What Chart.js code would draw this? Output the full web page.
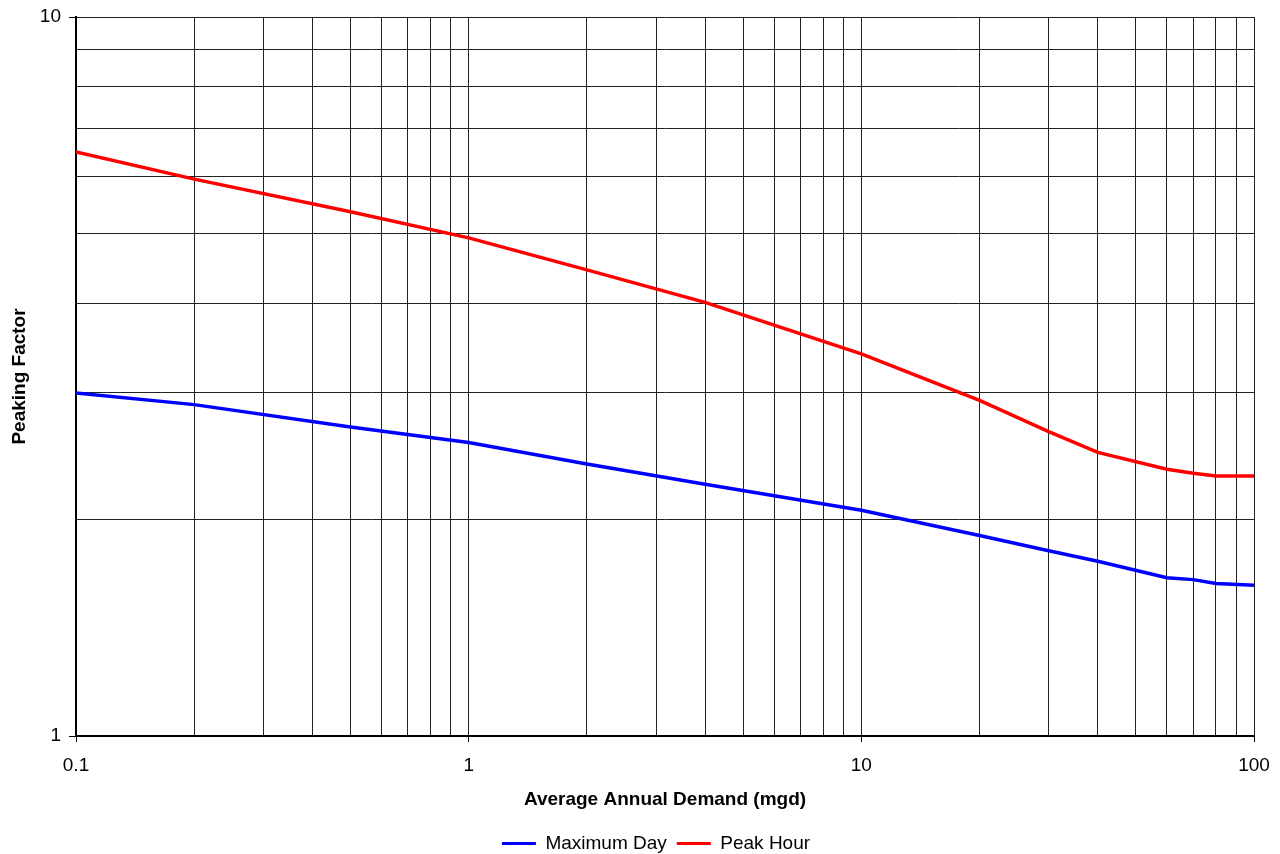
<!DOCTYPE html>
<html>
<head>
<meta charset="utf-8">
<script src="https://cdn.jsdelivr.net/npm/chart.js@4/dist/chart.umd.min.js"></script>
<style>
  html, body { margin: 0; padding: 0; background: #fff; }
  #wrap { width: 1280px; height: 854px; position: relative; }
</style>
</head>
<body>
<div id="wrap"><canvas id="chart"></canvas></div>
<script>
// demand (mgd) on a log axis
const demand = [0.1, 0.2, 0.5, 1, 2, 4, 10, 20, 30, 40, 60, 70, 80, 100];
const maxDay = [3.00, 2.89, 2.69, 2.56, 2.39, 2.24, 2.06, 1.90, 1.81, 1.75, 1.66, 1.65, 1.63, 1.62];
const peakHour = [6.49, 5.95, 5.36, 4.93, 4.45, 4.01, 3.40, 2.93, 2.65, 2.48, 2.35, 2.32, 2.30, 2.30];

const xTicks = [0.1, 0.2, 0.3, 0.4, 0.5, 0.6, 0.7, 0.8, 0.9,
  1, 2, 3, 4, 5, 6, 7, 8, 9, 10, 20, 30, 40, 50, 60, 70, 80, 90, 100];
const yTicks = [1, 2, 3, 4, 5, 6, 7, 8, 9, 10];
const isDecade = (v) => Math.abs(Math.log10(v) - Math.round(Math.log10(v))) < 1e-9;

const font = "'Liberation Sans', Arial, sans-serif";

// legend sits a bit right of the plot centre in the original
const legendShift = {
  id: "legendShift",
  afterLayout(chart) {
    chart.legend.left += 29;
    chart.legend.right += 29;
  }
};

new Chart(document.getElementById("chart"), {
  type: "line",
  data: {
    datasets: [
      { label: "Maximum Day", data: demand.map((x, i) => ({ x, y: maxDay[i] })),
        borderColor: "#0000ff", backgroundColor: "#0000ff", borderWidth: 3.5, pointRadius: 0, tension: 0 },
      { label: "Peak Hour", data: demand.map((x, i) => ({ x, y: peakHour[i] })),
        borderColor: "#ff0000", backgroundColor: "#ff0000", borderWidth: 3.5, pointRadius: 0, tension: 0 }
    ]
  },
  plugins: [legendShift],
  options: {
    responsive: true, maintainAspectRatio: false, animation: false,
    layout: { padding: { top: 17, right: 26, left: 0, bottom: -9 } },
    scales: {
      x: {
        type: "logarithmic", min: 0.1, max: 100,
        afterBuildTicks: (s) => { s.ticks = xTicks.map((v) => ({ value: v })); },
        afterFit: (s) => { s.height = 88; s.paddingLeft = 0; s.paddingRight = 0; },
        ticks: { autoSkip: false, maxRotation: 0, color: "#000", font: { family: font, size: 19 }, padding: 12,
          callback: (v) => (isDecade(v) ? String(v) : "") },
        grid: { color: "#222", lineWidth: 1, tickLength: 6,
          tickColor: (c) => (c.tick && isDecade(c.tick.value) ? "#000" : "rgba(0,0,0,0)") },
        border: { color: "#000", width: 2 },
        title: { display: true, text: "Average Annual Demand (mgd)", color: "#000",
          font: { family: font, size: 19, weight: "bold" }, padding: { top: 0, bottom: 13 } }
      },
      y: {
        type: "logarithmic", min: 1, max: 10,
        afterBuildTicks: (s) => { s.ticks = yTicks.map((v) => ({ value: v })); },
        afterFit: (s) => { s.width = 76; s.paddingTop = 0; s.paddingBottom = 0; },
        ticks: { autoSkip: false, color: "#000", font: { family: font, size: 19 }, padding: 8,
          callback: (v) => (isDecade(v) ? String(v) : "") },
        grid: { color: "#222", lineWidth: 1, tickLength: 7,
          tickColor: (c) => (c.tick && isDecade(c.tick.value) ? "#000" : "rgba(0,0,0,0)") },
        border: { color: "#000", width: 2 },
        title: { display: true, text: "Peaking Factor", color: "#000",
          font: { family: font, size: 19, weight: "bold" }, padding: { top: 8, bottom: 0 } }
      }
    },
    plugins: {
      legend: { position: "bottom",
        labels: { color: "#000", font: { family: font, size: 19 }, boxWidth: 34, boxHeight: 3, padding: 10,
          generateLabels: (chart) => Chart.defaults.plugins.legend.labels.generateLabels(chart)
            .map((l) => ({ ...l, lineWidth: 0 })) } },
      tooltip: { enabled: false }
    }
  }
});
</script>
</body>
</html>
